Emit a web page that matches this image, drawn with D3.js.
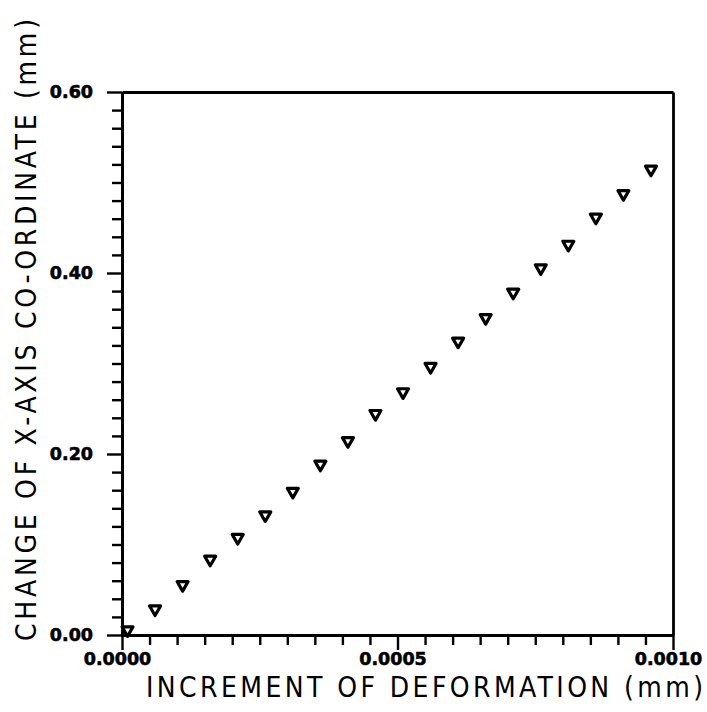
<!DOCTYPE html>
<html>
<head>
<meta charset="utf-8">
<script src="https://cdn.jsdelivr.net/npm/d3@7"></script>
<style>
  body { margin: 0; background: #fff; }
  .tick-label { font-family: "DejaVu Sans", sans-serif; font-weight: bold; font-size: 17.5px; fill: #000; stroke: #000; stroke-width: 0.6px; }
  .axis-title { font-family: "Liberation Sans Narrow", "DejaVu Sans Condensed", sans-serif; font-size: 28px; fill: #000; }
</style>
</head>
<body>
<div id="chart"></div>
<script>
// Increment of deformation (mm)
const deformation = [0.00001, 0.00006, 0.00011, 0.00016, 0.00021, 0.00026, 0.00031, 0.00036, 0.00041, 0.00046,
                     0.00051, 0.00056, 0.00061, 0.00066, 0.00071, 0.00076, 0.00081, 0.00086, 0.00091, 0.00096];
// Change of x-axis co-ordinate (mm)
const changeX = [0.004, 0.027, 0.054, 0.082, 0.106, 0.131, 0.157, 0.187, 0.213, 0.243,
                 0.267, 0.295, 0.323, 0.349, 0.377, 0.404, 0.430, 0.460, 0.486, 0.513];

const xMajor = [0, 0.0005, 0.0010];
const xMajorLabels = ["0.0000", "0.0005", "0.0010"];
const yMajor = [0, 0.2, 0.4, 0.6];
const yMajorLabels = ["0.00", "0.20", "0.40", "0.60"];
const xMinorStep = 0.00005;
const yMinorStep = 0.02;

const xTitle = "INCREMENT OF DEFORMATION (mm)";
const yTitle = "CHANGE OF X-AXIS CO-ORDINATE (mm)";

const W = 707, H = 712;
const margin = { top: 92, right: 34, bottom: 77, left: 122 };
const width = W - margin.left - margin.right;
const height = H - margin.top - margin.bottom;

const svg = d3.select("#chart").append("svg")
    .attr("width", W)
    .attr("height", H);

const g = svg.append("g")
    .attr("transform", `translate(${margin.left},${margin.top})`);

const xScale = d3.scaleLinear().domain([0, 0.001]).range([0, width]);
const yScale = d3.scaleLinear().domain([0, 0.6]).range([height, 0]);

const xMinor = d3.range(0, 20).map(i => i * xMinorStep).filter(v => !xMajor.some(m => Math.abs(m - v) < 1e-9));
const yMinor = d3.range(0, 30).map(i => i * yMinorStep).filter(v => !yMajor.some(m => Math.abs(m - v) < 1e-9));

function styleAxis(sel) {
    sel.select(".domain").attr("stroke", "#000").attr("stroke-width", 2.8);
    sel.selectAll(".tick line").attr("stroke", "#000").attr("stroke-width", 2.4);
}

// frame top / right
g.append("g").call(d3.axisTop(xScale).tickValues([]).tickSizeOuter(0)).call(styleAxis);
g.append("g").attr("transform", `translate(${width},0)`)
    .call(d3.axisRight(yScale).tickValues([]).tickSizeOuter(0)).call(styleAxis);

// x axis minor + major
g.append("g").attr("transform", `translate(0,${height})`)
    .call(d3.axisBottom(xScale).tickValues(xMinor).tickSize(10).tickSizeOuter(0).tickFormat(""))
    .call(styleAxis);
const xAx = g.append("g").attr("transform", `translate(0,${height})`)
    .call(d3.axisBottom(xScale).tickValues(xMajor).tickSize(15).tickSizeOuter(0).tickPadding(3)
        .tickFormat((d, i) => xMajorLabels[i]))
    .call(styleAxis);
xAx.selectAll(".tick text").attr("class", "tick-label").attr("dx", -5);

// y axis minor + major
g.append("g")
    .call(d3.axisLeft(yScale).tickValues(yMinor).tickSize(10).tickSizeOuter(0).tickFormat(""))
    .call(styleAxis);
const yAx = g.append("g")
    .call(d3.axisLeft(yScale).tickValues(yMajor).tickSize(15).tickSizeOuter(0).tickPadding(14)
        .tickFormat((d, i) => yMajorLabels[i]))
    .call(styleAxis);
yAx.selectAll(".tick text").attr("class", "tick-label");
yAx.selectAll("text").attr("font-family", null).attr("font-size", null);
xAx.selectAll("text").attr("font-family", null).attr("font-size", null);

// markers: hollow down-pointing triangles
const tri = "M-5.5,-4.6L5.5,-4.6L0,5Z";
g.selectAll(".pt")
    .data(deformation.map((d, i) => [d, changeX[i]]))
    .enter().append("path")
    .attr("class", "pt")
    .attr("d", tri)
    .attr("transform", d => `translate(${xScale(d[0])},${yScale(d[1])})`)
    .attr("fill", "#fff")
    .attr("stroke", "#000")
    .attr("stroke-width", 3.2)
    .attr("stroke-linejoin", "round");

// axis titles
svg.append("text")
    .attr("class", "axis-title")
    .attr("x", 146)
    .attr("y", 697)
    .attr("textLength", 557)
    .attr("lengthAdjust", "spacing")
    .text(xTitle);

svg.append("text")
    .attr("class", "axis-title")
    .attr("transform", "translate(36,641) rotate(-90)")
    .attr("textLength", 622)
    .attr("lengthAdjust", "spacing")
    .text(yTitle);
</script>
</body>
</html>
